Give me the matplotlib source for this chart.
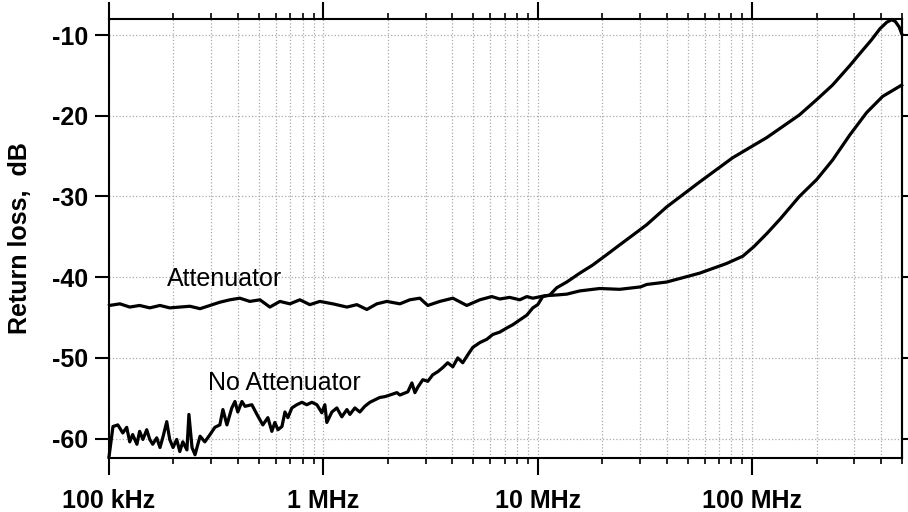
import matplotlib
matplotlib.use('Agg')
import matplotlib.pyplot as plt
from matplotlib.ticker import FixedLocator, FixedFormatter, LogLocator, NullFormatter

plt.rcParams['font.family'] = ['Liberation Sans', 'DejaVu Sans']

# Frequencies in MHz, return loss in dB
no_att_mhz = [0.1, 0.1044, 0.110, 0.116, 0.121, 0.125, 0.129, 0.135, 0.139, 0.144,
              0.150, 0.155, 0.160, 0.167, 0.173, 0.179, 0.186, 0.192, 0.199, 0.207,
              0.214, 0.221, 0.231, 0.236, 0.244, 0.252, 0.266, 0.280, 0.296, 0.312,
              0.329, 0.340, 0.355, 0.374, 0.387, 0.399, 0.417, 0.431, 0.464, 0.490,
              0.522, 0.551, 0.575, 0.594, 0.614, 0.641, 0.662, 0.683, 0.713, 0.752,
              0.794, 0.837, 0.884, 0.933, 0.984, 1.016, 1.038, 1.096, 1.156, 1.219,
              1.288, 1.330, 1.403, 1.479, 1.560, 1.648, 1.738, 1.833, 1.936, 2.042,
              2.203, 2.275, 2.478, 2.588, 2.673, 2.761, 2.911, 3.069, 3.236, 3.420,
              3.606, 3.802, 4.018, 4.236, 4.467, 4.721, 4.977, 5.370, 5.781, 6.166,
              6.653, 7.161, 7.638, 8.241, 8.892, 9.484, 10.0, 10.55, 11.38, 12.27,
              13.65, 15.70, 18.03, 20.99, 24.10, 27.72, 32.21, 39.9, 56.9, 81.1,
              117, 166, 200, 237, 285, 320, 360, 395, 425, 447, 465, 485, 498]
no_att_db = [-62.3, -58.5, -58.3, -59.3, -58.6, -60.4, -59.5, -60.7, -59.1, -60.1,
             -58.9, -60.1, -60.7, -59.9, -61.1, -59.7, -57.9, -60.1, -61.1, -60.1,
             -61.6, -60.4, -61.4, -57.0, -61.1, -62.0, -59.7, -60.4, -59.5, -58.6,
             -58.3, -56.4, -58.3, -56.2, -55.4, -56.7, -55.4, -56.0, -55.8, -57.0,
             -58.3, -57.4, -59.1, -58.0, -58.9, -58.5, -56.7, -57.4, -56.2, -55.8,
             -55.5, -55.8, -55.5, -55.8, -56.8, -55.8, -58.0, -56.7, -56.2, -57.3,
             -56.4, -57.0, -56.2, -56.7, -56.0, -55.5, -55.2, -54.9, -54.8, -54.6,
             -54.3, -54.6, -54.2, -53.1, -54.3, -53.6, -52.7, -52.9, -52.1, -51.7,
             -51.2, -50.6, -51.1, -50.0, -50.6, -49.6, -48.7, -48.1, -47.7, -47.1,
             -46.8, -46.3, -45.9, -45.3, -44.7, -43.8, -43.4, -42.4, -42.2, -41.3,
             -40.6, -39.5, -38.5, -37.2, -36.0, -34.8, -33.5, -31.3, -28.2, -25.2,
             -22.7, -19.9, -18.0, -16.2, -13.8, -12.2, -10.6, -9.2, -8.4, -8.1,
             -8.3, -9.0, -9.8]

att_mhz = [0.1005, 0.1125, 0.125, 0.139, 0.155, 0.173, 0.192, 0.214, 0.2386, 0.266,
           0.296, 0.329, 0.3665, 0.408, 0.454, 0.506, 0.563, 0.627, 0.698, 0.777,
           0.865, 0.963, 1.107, 1.288, 1.433, 1.595, 1.776, 1.977, 2.275, 2.532,
           2.818, 3.069, 3.493, 4.018, 4.667, 5.370, 6.105, 6.653, 7.396, 8.241,
           8.892, 9.484, 10.79, 12.27, 13.65, 15.70, 19.45, 24.10, 30.2, 32.21,
           39.9, 56.9, 76.0, 90.4, 102, 117, 135, 166, 200, 237, 285, 342, 406, 498]
att_db = [-43.5, -43.3, -43.7, -43.5, -43.8, -43.5, -43.8, -43.7, -43.6, -43.9,
          -43.5, -43.1, -42.8, -42.6, -43.0, -42.8, -43.7, -43.0, -43.3, -42.8,
          -43.4, -43.0, -43.3, -43.7, -43.4, -44.0, -43.3, -43.0, -43.3, -42.8,
          -42.6, -43.5, -43.0, -42.6, -43.5, -42.8, -42.4, -42.7, -42.5, -42.8,
          -42.4, -42.6, -42.3, -42.2, -42.1, -41.7, -41.4, -41.5, -41.2, -40.9,
          -40.6, -39.5, -38.3, -37.4, -36.2, -34.6, -32.8, -30.0, -27.9, -25.5,
          -22.4, -19.6, -17.6, -16.2]

x_ticks = [1e5, 1e6, 1e7, 1e8]
x_labels = ['100 kHz', '1 MHz', '10 MHz', '100 MHz']
y_ticks = [-10, -20, -30, -40, -50, -60]
y_labels = ['-10', '-20', '-30', '-40', '-50', '-60']

fig = plt.figure(figsize=(9.08, 5.12), dpi=100)
ax = fig.add_axes([0.12, 0.1055, 0.8734, 0.8575])

ax.plot([f * 1e6 for f in att_mhz], att_db, color='black', linewidth=2.3, clip_on=False)
ax.plot([f * 1e6 for f in no_att_mhz], no_att_db, color='black', linewidth=2.3, clip_on=False)

ax.set_xscale('log')
ax.set_xlim(1e5, 5e8)
ax.set_ylim(-62.4, -8.0)

ax.xaxis.set_major_locator(FixedLocator(x_ticks))
ax.xaxis.set_major_formatter(FixedFormatter(x_labels))
ax.xaxis.set_minor_locator(LogLocator(base=10, subs=range(2, 10)))
ax.xaxis.set_minor_formatter(NullFormatter())
ax.yaxis.set_major_locator(FixedLocator(y_ticks))
ax.yaxis.set_major_formatter(FixedFormatter(y_labels))

ax.tick_params(axis='x', which='major', direction='out', length=12, width=1.5,
               top=True, labelsize=18, pad=10)
ax.tick_params(axis='x', which='minor', direction='out', length=4.5, width=1.2, top=True)
ax.tick_params(axis='y', which='major', direction='out', length=10, width=1.5,
               labelsize=18, pad=5)
for lab in ax.get_xticklabels() + ax.get_yticklabels():
    lab.set_fontweight('bold')

right = ax.secondary_yaxis('right')
right.yaxis.set_major_locator(FixedLocator(y_ticks))
right.yaxis.set_major_formatter(NullFormatter())
right.tick_params(direction='out', length=5, width=1.5)
right.spines['right'].set_linewidth(1.5)

for s in ax.spines.values():
    s.set_linewidth(1.5)

ax.grid(which='major', axis='both', linestyle=':', color='#aaaaaa', linewidth=0.9)
ax.grid(which='minor', axis='x', linestyle=':', color='#aaaaaa', linewidth=0.9)

ax.set_ylabel('Return loss,  dB', fontsize=18, fontweight='bold', labelpad=14)

ax.text(0.186e6, -40.2, 'Attenuator', fontsize=18, ha='left', va='center')
ax.text(0.2894e6, -53.1, 'No Attenuator', fontsize=18, ha='left', va='center')

fig.savefig('out.png', dpi=100)
